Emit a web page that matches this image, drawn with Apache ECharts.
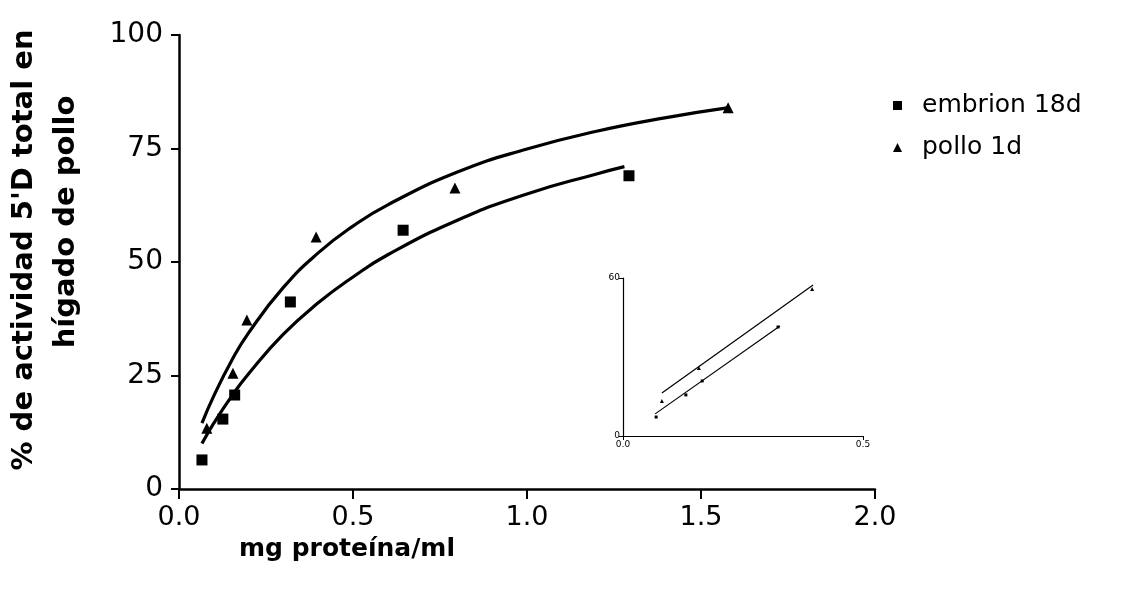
<!DOCTYPE html>
<html>
<head>
<meta charset="utf-8">
<script src="https://cdn.jsdelivr.net/npm/echarts@6/dist/echarts.min.js"></script>
<style>
  html, body { margin: 0; padding: 0; background: #fff; }
  #chart { width: 1122px; height: 596px; }
</style>
</head>
<body>
<div id="chart"></div>
<script>
// datos
var embrionX = [0.066, 0.126, 0.16, 0.32, 0.644, 1.293];
var embrionY = [6.4, 15.4, 20.7, 41.2, 57, 69];
var polloX = [0.08, 0.155, 0.195, 0.394, 0.793, 1.578];
var polloY = [13.4, 25.5, 37.2, 55.5, 66.3, 84];

var fitPolloX = [0.066, 0.1, 0.15, 0.2, 0.3, 0.4, 0.5, 0.6, 0.8, 1.0, 1.2, 1.4, 1.58];
var fitPolloY = [14.5, 20.5, 28.1, 34.4, 44.4, 52.0, 57.9, 62.6, 69.8, 74.9, 78.8, 81.8, 84.0];
var fitEmbrionX = [0.066, 0.1, 0.15, 0.2, 0.3, 0.4, 0.5, 0.6, 0.8, 1.0, 1.2, 1.28];
var fitEmbrionY = [10, 14.5, 20.3, 25.4, 34.1, 41.0, 46.7, 51.6, 59.2, 65.0, 69.4, 71.0];

// grafico insertado
var insetEmbrionX = [0.069, 0.131, 0.165, 0.323];
var insetEmbrionY = [7.2, 15.6, 20.9, 41.4];
var insetPolloX = [0.081, 0.158, 0.394];
var insetPolloY = [13.3, 25.8, 55.8];
var insetLinePolloX = [0.081, 0.396];
var insetLinePolloY = [16.3, 57.3];
var insetLineEmbrionX = [0.067, 0.327];
var insetLineEmbrionY = [8.4, 41.8];

var xTicks = ['0.0', '0.5', '1.0', '1.5', '2.0'];
var yTicks = ['0', '25', '50', '75', '100'];

function pares(xs, ys) {
    return xs.map(function (x, i) { return [x, ys[i]]; });
}

var font = 'DejaVu Sans';
var myChart = echarts.init(document.getElementById('chart'));

var option = {
    animation: false,
    backgroundColor: '#fff',
    grid: [
        { left: 179, right: 247, top: 35, bottom: 107 },
        { left: 623, right: 259, top: 278, bottom: 160 }
    ],
    legend: {
        data: [
            { name: 'embrion 18d', icon: 'rect' },
            { name: 'pollo 1d', icon: 'triangle' }
        ],
        orient: 'vertical',
        left: 888,
        top: 88,
        itemWidth: 9,
        itemHeight: 9,
        itemGap: 17,
        textStyle: { fontFamily: font, fontSize: 25, color: '#000', padding: [0, 0, 0, 15] }
    },
    xAxis: [{
        type: 'value', gridIndex: 0, min: 0, max: 2, interval: 0.5,
        name: 'mg proteína/ml', nameLocation: 'middle', nameGap: 48,
        nameTextStyle: { fontFamily: font, fontWeight: 'bold', fontSize: 25, color: '#000', padding: [0, 360, 0, 0] },
        axisLine: { lineStyle: { color: '#000', width: 2.5 } },
        axisTick: { length: 10, lineStyle: { color: '#000', width: 2 } },
        splitLine: { show: false },
        axisLabel: {
            fontFamily: font, fontSize: 27, color: '#000', margin: 15,
            formatter: function (v) { return xTicks[Math.round(v / 0.5)]; }
        }
    }, {
        type: 'value', gridIndex: 1, min: 0, max: 0.5, interval: 0.5,
        axisLine: { lineStyle: { color: '#000', width: 1.2 } },
        axisTick: { length: 4, lineStyle: { color: '#000' } },
        splitLine: { show: false },
        axisLabel: { fontFamily: font, fontSize: 9, color: '#000', margin: 4,
            formatter: function (v) { return v.toFixed(1); } }
    }],
    yAxis: [{
        type: 'value', gridIndex: 0, min: 0, max: 100, interval: 25,
        axisLine: { show: true, lineStyle: { color: '#000', width: 2.5 } },
        axisTick: { show: true, length: 8, lineStyle: { color: '#000', width: 2 } },
        splitLine: { show: false },
        axisLabel: {
            fontFamily: font, fontSize: 28, color: '#000', margin: 16,
            formatter: function (v) { return yTicks[Math.round(v / 25)]; }
        }
    }, {
        type: 'value', gridIndex: 1, min: 0, max: 60, interval: 60,
        axisLine: { show: true, lineStyle: { color: '#000', width: 1.2 } },
        axisTick: { show: true, length: 4, lineStyle: { color: '#000' } },
        splitLine: { show: false },
        axisLabel: { fontFamily: font, fontSize: 9, color: '#000', margin: 3 }
    }],
    graphic: [{
        type: 'text', x: 24, y: 250, rotation: Math.PI / 2,
        style: { text: "% de actividad 5'D total en", font: 'bold 29px "DejaVu Sans"', fill: '#000',
            textAlign: 'center', textVerticalAlign: 'middle' }
    }, {
        type: 'text', x: 66, y: 222, rotation: Math.PI / 2,
        style: { text: 'hígado de pollo', font: 'bold 29px "DejaVu Sans"', fill: '#000',
            textAlign: 'center', textVerticalAlign: 'middle' }
    }],
    series: [{
        name: 'ajuste pollo', type: 'line', smooth: true, showSymbol: false,
        xAxisIndex: 0, yAxisIndex: 0,
        lineStyle: { color: '#000', width: 3.2 },
        data: pares(fitPolloX, fitPolloY)
    }, {
        name: 'ajuste embrion', type: 'line', smooth: true, showSymbol: false,
        xAxisIndex: 0, yAxisIndex: 0,
        lineStyle: { color: '#000', width: 3.2 },
        data: pares(fitEmbrionX, fitEmbrionY)
    }, {
        name: 'embrion 18d', type: 'scatter', symbol: 'rect', symbolSize: 11,
        xAxisIndex: 0, yAxisIndex: 0,
        itemStyle: { color: '#000', opacity: 1 },
        data: pares(embrionX, embrionY)
    }, {
        name: 'pollo 1d', type: 'scatter', symbol: 'triangle', symbolSize: 11,
        xAxisIndex: 0, yAxisIndex: 0,
        itemStyle: { color: '#000', opacity: 1 },
        data: pares(polloX, polloY)
    }, {
        name: 'inset pollo', type: 'line', showSymbol: false,
        xAxisIndex: 1, yAxisIndex: 1,
        lineStyle: { color: '#000', width: 1.2 },
        data: pares(insetLinePolloX, insetLinePolloY)
    }, {
        name: 'inset embrion', type: 'line', showSymbol: false,
        xAxisIndex: 1, yAxisIndex: 1,
        lineStyle: { color: '#000', width: 1.2 },
        data: pares(insetLineEmbrionX, insetLineEmbrionY)
    }, {
        name: 'inset embrion pts', type: 'scatter', symbol: 'rect', symbolSize: 3,
        xAxisIndex: 1, yAxisIndex: 1,
        itemStyle: { color: '#000', opacity: 1 },
        data: pares(insetEmbrionX, insetEmbrionY)
    }, {
        name: 'inset pollo pts', type: 'scatter', symbol: 'triangle', symbolSize: 4,
        xAxisIndex: 1, yAxisIndex: 1,
        itemStyle: { color: '#000', opacity: 1 },
        data: pares(insetPolloX, insetPolloY)
    }]
};

myChart.setOption(option);
</script>
</body>
</html>
